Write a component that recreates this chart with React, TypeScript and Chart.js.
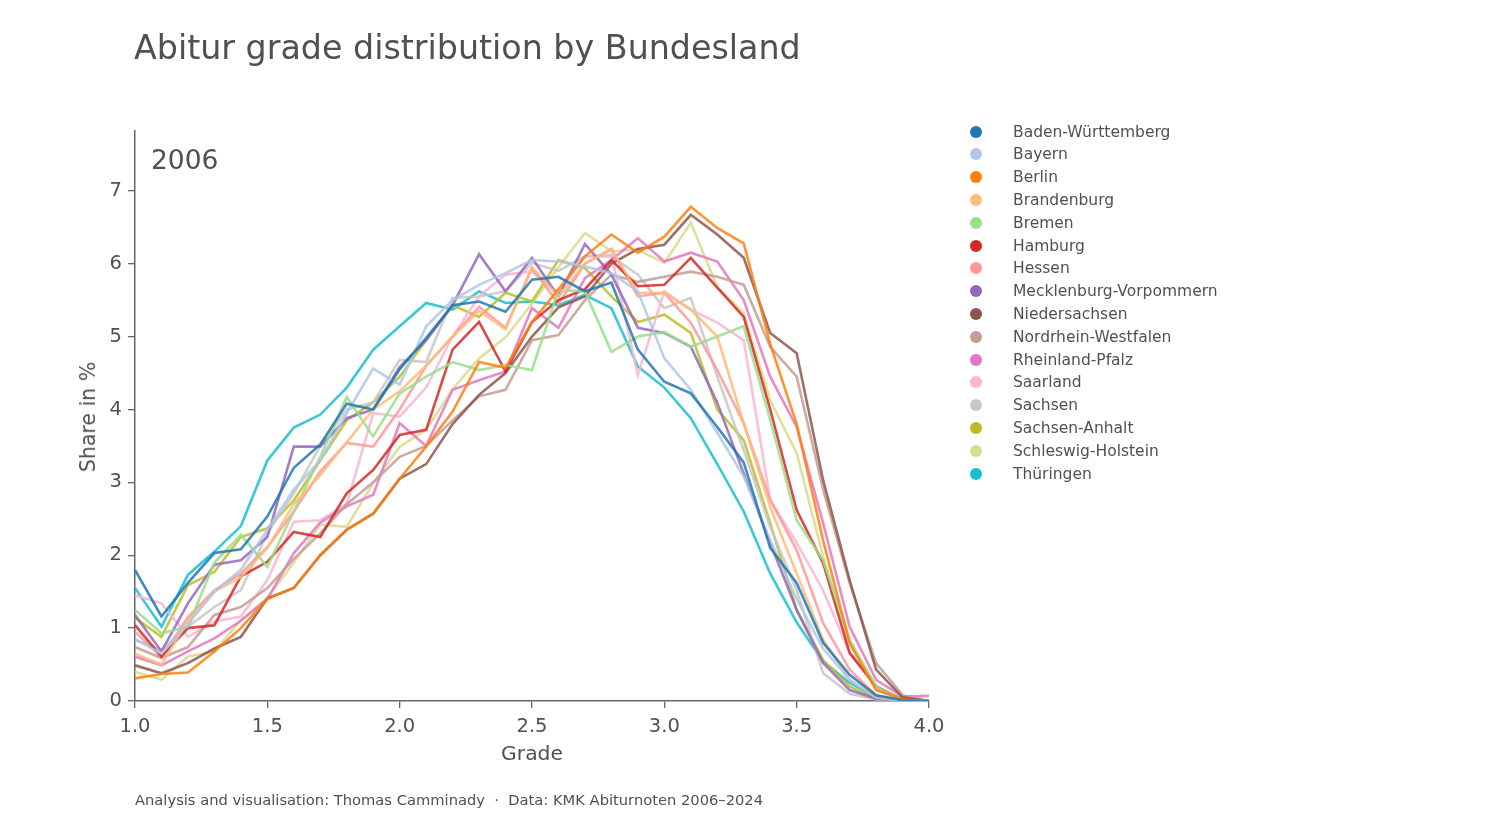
import { useEffect, useRef } from "react";
import { Chart, registerables } from "chart.js";

Chart.register(...registerables);

// grades 1.0 .. 4.0 in steps of 0.1
const grades = [
  1.0, 1.1, 1.2, 1.3, 1.4, 1.5, 1.6, 1.7, 1.8, 1.9, 2.0, 2.1, 2.2, 2.3, 2.4, 2.5,
  2.6, 2.7, 2.8, 2.9, 3.0, 3.1, 3.2, 3.3, 3.4, 3.5, 3.6, 3.7, 3.8, 3.9, 4.0,
];

const badenWuerttemberg = [1.80, 1.16, 1.62, 2.03, 2.08, 2.53, 3.20, 3.52, 4.08, 4.00, 4.55, 4.98, 5.43, 5.48, 5.34, 5.78, 5.82, 5.62, 5.74, 4.82, 4.38, 4.22, 3.76, 3.27, 2.10, 1.62, 0.80, 0.36, 0.08, 0.01, 0.0];
const bayern = [0.85, 0.65, 1.05, 1.50, 1.80, 2.35, 2.90, 3.30, 3.95, 4.56, 4.34, 5.14, 5.50, 5.71, 5.87, 6.05, 6.03, 5.96, 5.87, 5.62, 4.70, 4.27, 3.68, 3.08, 2.21, 1.40, 0.72, 0.29, 0.05, 0.0, 0.0];
const berlin = [0.31, 0.37, 0.39, 0.68, 1.00, 1.40, 1.55, 2.00, 2.35, 2.57, 3.05, 3.49, 3.97, 4.65, 4.57, 5.20, 5.65, 6.10, 6.40, 6.15, 6.37, 6.78, 6.49, 6.28, 4.90, 3.80, 2.20, 0.80, 0.15, 0.02, 0.0];
const brandenburg = [0.65, 0.50, 1.10, 1.50, 1.70, 2.10, 2.70, 3.10, 3.55, 4.00, 4.25, 4.60, 5.00, 5.35, 5.10, 5.95, 5.55, 6.00, 6.20, 5.60, 5.60, 5.37, 5.00, 3.81, 2.66, 1.75, 0.84, 0.29, 0.05, 0.0, 0.0];
const bremen = [1.25, 0.93, 1.02, 1.90, 2.28, 1.84, 2.60, 3.35, 4.17, 3.63, 4.22, 4.45, 4.65, 4.54, 4.61, 4.54, 5.64, 5.62, 4.79, 5.00, 5.06, 4.86, 5.00, 5.14, 3.86, 2.48, 1.93, 0.84, 0.20, 0.01, 0.0];
const hamburg = [1.04, 0.61, 1.00, 1.04, 1.71, 1.91, 2.32, 2.25, 2.85, 3.17, 3.65, 3.72, 4.82, 5.20, 4.52, 5.20, 5.50, 5.65, 6.05, 5.69, 5.71, 6.08, 5.67, 5.27, 4.00, 2.62, 1.89, 0.66, 0.20, 0.02, 0.0];
const hessen = [0.95, 0.60, 1.15, 1.52, 1.75, 2.11, 2.60, 3.15, 3.54, 3.49, 4.00, 4.60, 5.00, 5.41, 5.12, 5.94, 5.45, 6.00, 6.20, 5.55, 5.60, 5.19, 4.54, 3.81, 2.76, 2.07, 1.07, 0.43, 0.08, 0.01, 0.0];
const mecklenburgVorpommern = [1.18, 0.68, 1.34, 1.87, 1.93, 2.25, 3.49, 3.49, 3.88, 4.00, 4.58, 4.95, 5.43, 6.13, 5.62, 6.08, 5.55, 6.27, 5.85, 5.12, 5.05, 4.86, 4.09, 3.12, 2.17, 1.25, 0.52, 0.15, 0.03, 0.0, 0.0];
const niedersachsen = [0.49, 0.38, 0.52, 0.72, 0.88, 1.41, 1.55, 2.00, 2.35, 2.57, 3.05, 3.25, 3.80, 4.20, 4.50, 5.00, 5.40, 5.55, 6.00, 6.20, 6.26, 6.67, 6.40, 6.08, 5.05, 4.77, 3.03, 1.66, 0.43, 0.05, 0.0];
const nordrheinWestfalen = [0.74, 0.59, 0.74, 1.18, 1.29, 1.55, 1.95, 2.30, 2.70, 3.00, 3.35, 3.50, 3.85, 4.18, 4.27, 4.95, 5.02, 5.50, 5.85, 5.75, 5.82, 5.89, 5.82, 5.71, 4.86, 4.45, 2.90, 1.62, 0.52, 0.08, 0.0];
const rheinlandPfalz = [0.61, 0.49, 0.68, 0.86, 1.10, 1.40, 2.03, 2.45, 2.67, 2.83, 3.81, 3.50, 4.27, 4.40, 4.52, 5.39, 5.12, 5.80, 6.05, 6.35, 6.03, 6.15, 6.03, 5.50, 4.45, 3.76, 2.44, 1.02, 0.29, 0.06, 0.07];
const saarland = [1.45, 1.34, 0.88, 1.09, 1.16, 1.66, 2.46, 2.48, 2.70, 3.95, 3.90, 4.30, 5.00, 5.55, 5.85, 5.89, 5.60, 6.10, 6.12, 4.47, 5.62, 5.37, 5.19, 4.95, 2.76, 2.17, 1.52, 0.66, 0.20, 0.02, 0.0];
const sachsen = [0.84, 0.70, 1.02, 1.29, 1.52, 2.30, 2.85, 3.50, 4.00, 4.10, 4.68, 4.65, 5.53, 5.55, 5.62, 6.01, 5.90, 6.10, 6.10, 5.85, 5.39, 5.53, 4.45, 3.44, 2.39, 1.52, 0.38, 0.10, 0.02, 0.0, 0.0];
const sachsenAnhalt = [1.14, 0.88, 1.59, 1.77, 2.25, 2.37, 2.75, 3.30, 3.85, 4.10, 4.45, 4.95, 5.43, 5.27, 5.60, 5.48, 6.05, 5.94, 5.55, 5.20, 5.30, 5.05, 4.00, 3.58, 2.44, 1.25, 0.56, 0.20, 0.03, 0.0, 0.0];
const schleswigHolstein = [0.40, 0.29, 0.61, 0.68, 1.11, 1.41, 1.90, 2.42, 2.39, 2.99, 3.49, 3.72, 4.28, 4.70, 4.99, 5.45, 5.95, 6.42, 6.17, 6.19, 6.01, 6.56, 5.68, 5.32, 4.13, 3.40, 1.98, 0.79, 0.19, 0.02, 0.0];
const thueringen = [1.55, 1.02, 1.73, 2.05, 2.40, 3.30, 3.75, 3.93, 4.30, 4.82, 5.14, 5.46, 5.37, 5.62, 5.46, 5.48, 5.43, 5.57, 5.39, 4.59, 4.30, 3.88, 3.25, 2.60, 1.75, 1.08, 0.54, 0.25, 0.05, 0.01, 0.0];

const states = [
  "Baden-Württemberg", "Bayern", "Berlin", "Brandenburg", "Bremen", "Hamburg", "Hessen",
  "Mecklenburg-Vorpommern", "Niedersachsen", "Nordrhein-Westfalen", "Rheinland-Pfalz",
  "Saarland", "Sachsen", "Sachsen-Anhalt", "Schleswig-Holstein", "Thüringen",
];
const series = [
  badenWuerttemberg, bayern, berlin, brandenburg, bremen, hamburg, hessen,
  mecklenburgVorpommern, niedersachsen, nordrheinWestfalen, rheinlandPfalz,
  saarland, sachsen, sachsenAnhalt, schleswigHolstein, thueringen,
];
const colors = [
  "#1f77b4", "#aec7e8", "#ff7f0e", "#ffbb78", "#98df8a", "#d62728", "#ff9896", "#9467bd",
  "#8c564b", "#c49c94", "#e377c2", "#f7b6d2", "#c7c7c7", "#bcbd22", "#dbdb8d", "#17becf",
];
const yTicks = [0, 1, 2, 3, 4, 5, 6, 7];

const FONT = "'DejaVu Sans', sans-serif";
const TEXT = "#505050";
const AXIS = "#666666";

function hexA(hex: string, a: number) {
  const n = parseInt(hex.slice(1), 16);
  return `rgba(${(n >> 16) & 255},${(n >> 8) & 255},${n & 255},${a})`;
}

export default function App() {
  const canvasRef = useRef<HTMLCanvasElement>(null);
  const chartInstance = useRef<Chart | null>(null);

  useEffect(() => {
    if (!canvasRef.current) return;
    if (chartInstance.current) chartInstance.current.destroy();

    chartInstance.current = new Chart(canvasRef.current, {
      type: "line",
      data: {
        datasets: series.map((vals, i) => ({
          label: states[i],
          data: vals.map((v, j) => ({ x: grades[j], y: v })),
          borderColor: hexA(colors[i], 0.85),
          borderWidth: 2.6,
          pointRadius: 0,
          tension: 0,
          fill: false,
        })),
      },
      options: {
        responsive: false,
        animation: false,
        layout: { padding: { left: 0, top: 131, right: 571, bottom: 0 } },
        plugins: { legend: { display: false }, tooltip: { enabled: false } },
        scales: {
          x: {
            type: "linear",
            min: 1,
            max: 4,
            afterFit: (s: any) => { s.height = 124; },
            ticks: {
              stepSize: 0.5,
              callback: (v: any) => Number(v).toFixed(1),
              color: TEXT,
              font: { family: FONT, size: 19.5 },
              padding: 7,
            },
            grid: { drawOnChartArea: false, drawTicks: true, tickLength: 7, color: AXIS, lineWidth: 1.3 },
            border: { display: true, color: AXIS, width: 1.5 },
          },
          y: {
            min: 0,
            max: 7.82,
            afterFit: (s: any) => { s.width = 135; },
            afterBuildTicks: (s: any) => { s.ticks = yTicks.map((v) => ({ value: v })); },
            ticks: {
              color: TEXT,
              font: { family: FONT, size: 19.5 },
              padding: 6,
            },
            grid: { drawOnChartArea: false, drawTicks: true, tickLength: 7, color: AXIS, lineWidth: 1.3 },
            border: { display: true, color: AXIS, width: 1.5 },
          },
        },
      },
    });

    return () => chartInstance.current?.destroy();
  }, []);

  return (
    <div style={{ position: "absolute", left: 0, top: 0, width: 1500, height: 825, background: "#fff", fontFamily: FONT, color: TEXT }}>
      <canvas ref={canvasRef} width={1500} height={825} style={{ position: "absolute", left: 0, top: 0 }} />
      <div style={{ position: "absolute", left: 134, top: 28, fontSize: 33.3, lineHeight: "40px", whiteSpace: "nowrap" }}>
        Abitur grade distribution by Bundesland
      </div>
      <div style={{ position: "absolute", left: 151, top: 144, fontSize: 26.5, lineHeight: "32px" }}>2006</div>
      <div style={{ position: "absolute", left: 492, top: 740, width: 80, textAlign: "center", fontSize: 20.3, lineHeight: "26px" }}>Grade</div>
      <div
        style={{
          position: "absolute", left: 88, top: 417, fontSize: 20.5, lineHeight: "26px", whiteSpace: "nowrap",
          transform: "translate(-50%, -50%) rotate(-90deg)",
        }}
      >
        Share in %
      </div>
      {states.map((s, i) => (
        <div key={s} style={{ position: "absolute", left: 966, top: 131.5 + i * 22.8 - 11, height: 22, display: "flex", alignItems: "center", whiteSpace: "nowrap" }}>
          <span style={{ display: "inline-block", width: 12, height: 12, borderRadius: 6, background: colors[i], marginLeft: 4 }} />
          <span style={{ marginLeft: 31, fontSize: 15.5 }}>{s}</span>
        </div>
      ))}
      <div style={{ position: "absolute", left: 135, top: 790, fontSize: 14.7, lineHeight: "20px", whiteSpace: "nowrap" }}>
        Analysis and visualisation: Thomas Camminady &nbsp;·&nbsp; Data: KMK Abiturnoten 2006–2024
      </div>
    </div>
  );
}
